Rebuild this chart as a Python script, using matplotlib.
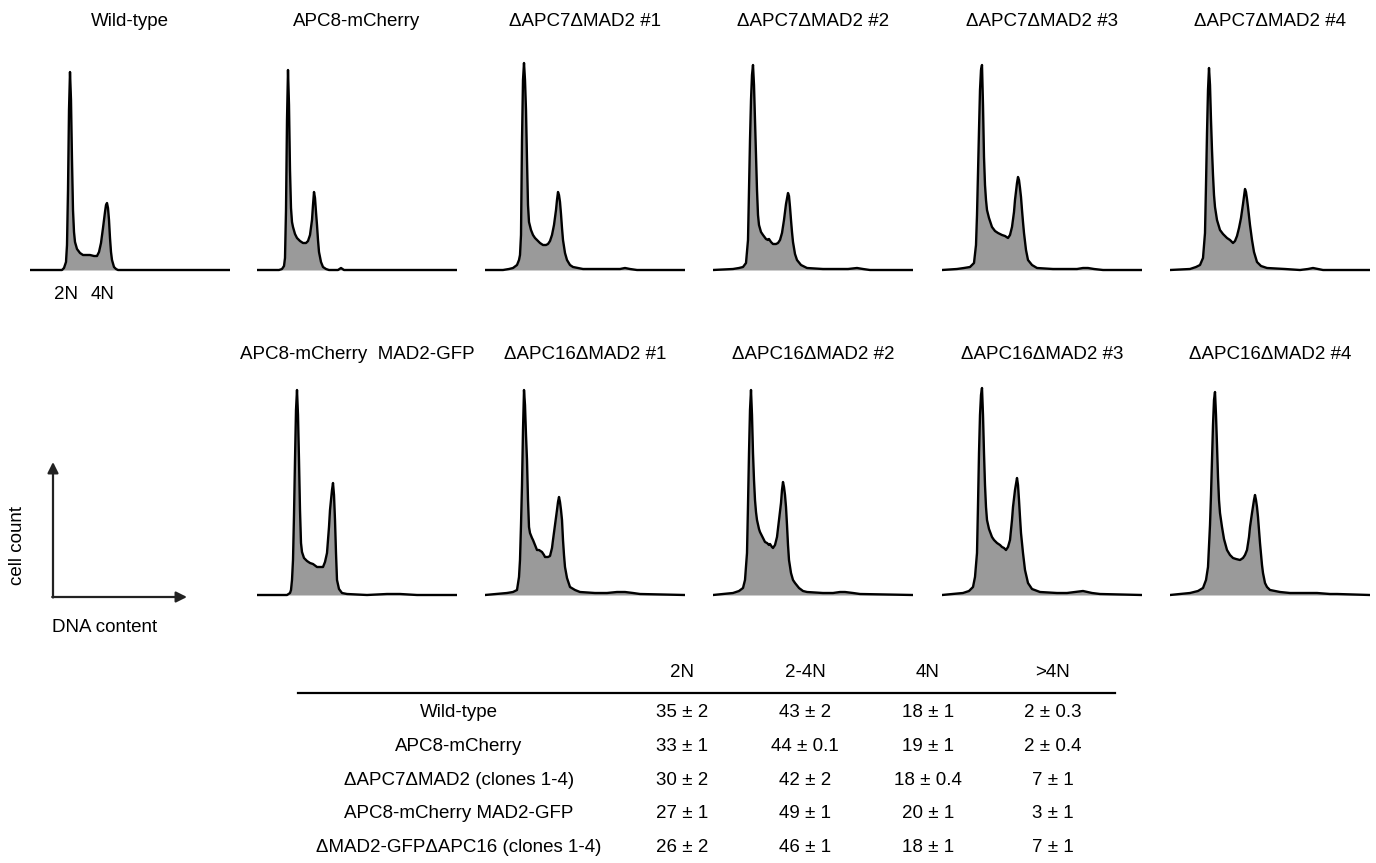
import matplotlib

matplotlib.use('Agg')
import matplotlib.pyplot as plt

plt.rcParams['font.family'] = ['Liberation Sans', 'DejaVu Sans']

W, H = 1376, 863

# histograms: (DNA content channel, cell count)
wt_hist = [(0, 0), (32, 0), (34, 2), (36, 8), (37, 25), (38, 80), (39, 160), (40, 198), (41, 170),
           (42, 110), (43, 60), (44, 38), (45, 28), (47, 21), (50, 17), (53, 15), (57, 15), (60, 15),
           (64, 14), (67, 14), (69, 18), (71, 27), (73, 42), (75, 58), (76, 65), (77, 67), (78, 62),
           (79, 50), (80, 32), (81, 18), (82, 10), (84, 3), (86, 1), (88, 0), (200, 0)]

apc8_hist = [(0, 0), (22, 0), (25, 1), (27, 4), (28, 12), (29, 60), (30, 150), (31, 200), (32, 165),
             (33, 100), (34, 62), (35, 48), (36, 43), (38, 36), (40, 32), (43, 29), (46, 27), (49, 27),
             (51, 29), (53, 35), (55, 50), (56, 65), (57, 78), (58, 72), (59, 58), (60, 45), (61, 30),
             (62, 18), (64, 8), (66, 3), (69, 1), (72, 0), (81, 0), (84, 2), (87, 0), (200, 0)]

a7m1_hist = [(0, 0), (18, 0), (24, 1), (28, 2), (32, 5), (34, 10), (35, 15), (36, 35), (37, 130),
             (38, 190), (39, 207), (40, 190), (41, 160), (42, 110), (43, 65), (44, 48), (46, 40),
             (48, 35), (50, 32), (53, 29), (55, 27), (58, 25), (61, 25), (63, 26), (65, 29), (67, 35),
             (69, 45), (71, 60), (72, 70), (73, 78), (74, 75), (75, 68), (76, 56), (77, 42), (78, 30),
             (80, 17), (82, 10), (85, 5), (88, 3), (93, 2), (98, 1), (130, 1), (135, 1), (140, 2),
             (145, 1), (152, 0), (200, 0)]

a7m2_hist = [(0, 0), (20, 1), (26, 2), (30, 3), (33, 7), (35, 30), (36, 80), (37, 130), (38, 170),
             (39, 195), (40, 205), (41, 185), (42, 150), (43, 115), (44, 80), (45, 55), (46, 45),
             (48, 38), (50, 35), (53, 31), (55, 30), (56, 31), (58, 28), (60, 26), (63, 26), (65, 27),
             (67, 30), (69, 37), (71, 50), (73, 66), (75, 77), (76, 74), (77, 63), (78, 50), (79, 38),
             (80, 28), (82, 16), (84, 10), (88, 5), (94, 2), (110, 1), (124, 1), (135, 1), (144, 2),
             (150, 1), (157, 0), (200, 0)]

a7m3_hist = [(0, 0), (15, 1), (22, 2), (28, 3), (32, 7), (34, 25), (35, 55), (36, 97), (37, 140),
             (38, 180), (39, 200), (40, 205), (41, 165), (42, 113), (43, 85), (44, 70), (45, 60),
             (47, 52), (50, 43), (53, 39), (56, 37), (60, 35), (63, 34), (66, 32), (68, 35), (70, 43),
             (72, 58), (73, 70), (75, 87), (76, 93), (77, 90), (78, 82), (79, 73), (80, 60), (81, 48),
             (82, 37), (84, 20), (86, 10), (90, 5), (95, 2), (111, 1), (135, 1), (141, 2), (146, 2),
             (152, 1), (161, 0), (200, 0)]

a7m4_hist = [(0, 0), (20, 1), (26, 3), (30, 5), (33, 12), (35, 37), (36, 85), (37, 137), (38, 180),
             (39, 202), (40, 185), (41, 150), (42, 120), (43, 95), (44, 75), (45, 63), (47, 50),
             (50, 40), (53, 36), (57, 32), (60, 30), (63, 27), (65, 29), (67, 34), (69, 42), (71, 52),
             (73, 66), (75, 81), (76, 78), (77, 71), (78, 63), (80, 45), (82, 30), (84, 18), (87, 8),
             (91, 4), (97, 2), (115, 1), (130, 0), (138, 1), (143, 2), (148, 1), (153, 0), (200, 0)]

apc8mad2_hist = [(0, 0), (30, 0), (33, 2), (34, 5), (35, 15), (36, 35), (37, 80), (38, 135), (39, 185),
                 (40, 205), (41, 180), (42, 135), (43, 85), (44, 52), (45, 43), (47, 37), (50, 34),
                 (53, 32), (56, 31), (60, 28), (63, 28), (66, 28), (68, 33), (70, 42), (72, 68), (73, 85),
                 (75, 105), (76, 112), (77, 100), (78, 75), (79, 42), (80, 15), (82, 6), (85, 2), (90, 1),
                 (110, 0), (130, 1), (143, 1), (160, 0), (200, 0)]

a16m1_hist = [(0, 0), (22, 2), (28, 3), (32, 5), (34, 18), (35, 35), (36, 70), (37, 110), (38, 165),
              (39, 205), (40, 190), (41, 160), (42, 135), (43, 95), (44, 68), (45, 62), (47, 57), (48, 55),
              (50, 50), (52, 45), (54, 45), (57, 43), (59, 40), (60, 38), (63, 38), (65, 39), (67, 47),
              (68, 55), (70, 70), (72, 85), (73, 93), (74, 98), (75, 93), (76, 85), (77, 75), (78, 55),
              (79, 40), (80, 28), (82, 17), (85, 8), (90, 5), (95, 3), (110, 2), (122, 2), (132, 3),
              (140, 3), (148, 2), (155, 1), (200, 0)]

a16m2_hist = [(0, 0), (20, 2), (26, 4), (30, 7), (32, 15), (34, 42), (35, 90), (36, 142), (37, 185),
              (38, 205), (39, 180), (40, 142), (41, 115), (42, 95), (43, 83), (44, 75), (46, 66), (47, 63),
              (50, 57), (52, 53), (54, 52), (56, 50), (57, 51), (59, 48), (60, 47), (62, 50), (64, 58),
              (66, 75), (68, 92), (69, 105), (70, 113), (71, 108), (72, 100), (73, 88), (74, 70), (75, 50),
              (76, 35), (78, 22), (80, 15), (82, 12), (86, 7), (90, 4), (94, 3), (110, 2), (120, 2),
              (127, 3), (132, 3), (140, 2), (147, 1), (200, 0)]

a16m3_hist = [(0, 0), (21, 2), (27, 4), (31, 8), (33, 18), (35, 42), (36, 90), (37, 142), (38, 180),
              (39, 200), (40, 207), (41, 180), (42, 142), (43, 110), (44, 88), (45, 75), (47, 66), (50, 58),
              (52, 55), (55, 52), (58, 50), (60, 48), (62, 47), (64, 45), (66, 48), (68, 55), (70, 75),
              (71, 88), (73, 105), (75, 117), (76, 110), (77, 95), (78, 78), (79, 62), (81, 42), (83, 25),
              (86, 12), (90, 6), (98, 3), (115, 2), (125, 2), (133, 3), (141, 4), (150, 2), (158, 1),
              (200, 0)]

a16m4_hist = [(0, 0), (20, 2), (28, 4), (33, 7), (36, 15), (38, 28), (40, 70), (41, 100), (42, 135),
              (43, 170), (44, 195), (45, 203), (46, 180), (47, 150), (48, 118), (49, 95), (50, 82),
              (52, 68), (54, 56), (57, 45), (60, 40), (63, 37), (66, 36), (70, 35), (73, 37), (75, 40),
              (77, 45), (79, 58), (80, 68), (82, 82), (84, 95), (85, 100), (86, 95), (87, 88), (88, 78),
              (90, 52), (92, 30), (93, 22), (95, 12), (97, 8), (100, 5), (110, 3), (120, 2), (135, 2),
              (147, 2), (160, 1), (167, 1), (200, 0)]

row1_titles = ["Wild-type", "APC8-mCherry", "ΔAPC7ΔMAD2 #1", "ΔAPC7ΔMAD2 #2",
               "ΔAPC7ΔMAD2 #3", "ΔAPC7ΔMAD2 #4"]
row2_titles = ["APC8-mCherry  MAD2-GFP", "ΔAPC16ΔMAD2 #1", "ΔAPC16ΔMAD2 #2",
               "ΔAPC16ΔMAD2 #3", "ΔAPC16ΔMAD2 #4"]

# summary table (% of cells)
row_labels = ["Wild-type", "APC8-mCherry", "ΔAPC7ΔMAD2 (clones 1-4)",
              "APC8-mCherry MAD2-GFP", "ΔMAD2-GFPΔAPC16 (clones 1-4)"]
col_labels = ["2N", "2-4N", "4N", ">4N"]
mean_2n = [35, 33, 30, 27, 26]
err_2n = [2, 1, 2, 1, 2]
mean_2_4n = [43, 44, 42, 49, 46]
err_2_4n = [2, 0.1, 2, 1, 1]
mean_4n = [18, 19, 18, 20, 18]
err_4n = [1, 1, 0.4, 1, 1]
mean_gt4n = [2, 2, 7, 3, 7]
err_gt4n = [0.3, 0.4, 1, 1, 1]

row1_data = [wt_hist, apc8_hist, a7m1_hist, a7m2_hist, a7m3_hist, a7m4_hist]
row2_data = [apc8mad2_hist, a16m1_hist, a16m2_hist, a16m3_hist, a16m4_hist]

FS = 13.5
fig = plt.figure(figsize=(W / 100, H / 100), dpi=100)

# overlay in pixel coordinates for arrows, labels and table
ov = fig.add_axes([0, 0, 1, 1])
ov.set_xlim(0, W)
ov.set_ylim(H, 0)
ov.axis('off')


def draw_panel(left, base, hist, title, title_y):
    pad = 3
    dna = [p[0] for p in hist]
    count = [p[1] for p in hist]
    ax = fig.add_axes([left / W, (H - base - pad) / H, 200 / W, 230 / H])
    ax.set_xlim(0, 200)
    ax.set_ylim(-pad, 230 - pad)
    ax.fill_between(dna, count, 0, color='#9a9a9a', lw=0)
    ax.plot(dna, count, color='black', lw=1.7, solid_joinstyle='round')
    ax.axis('off')
    ov.text(left + 100, title_y, title, ha='center', va='center', fontsize=FS)


lefts = [30, 257, 485, 713, 942, 1170]
for left, hist, title in zip(lefts, row1_data, row1_titles):
    draw_panel(left, 270, hist, title, 21)
for left, hist, title in zip(lefts[1:], row2_data, row2_titles):
    draw_panel(left, 595, hist, title, 354)

ov.text(66, 294, "2N", ha='center', va='center', fontsize=FS)
ov.text(103, 294, "4N", ha='center', va='center', fontsize=FS)

# axis schematic
arrow = dict(arrowstyle='-|>', lw=1.6, color='#222222', mutation_scale=16, shrinkA=0, shrinkB=0)
ov.annotate('', xy=(53, 462), xytext=(53, 597.5), arrowprops=arrow)
ov.annotate('', xy=(187, 597), xytext=(52.2, 597), arrowprops=arrow)
ov.text(18, 545, "cell count", rotation=90, ha='center', va='center', fontsize=FS)
ov.text(52, 627, "DNA content", ha='left', va='center', fontsize=FS)

# table
col_x = [682, 805, 928, 1053]
row_y = [712, 746, 780, 813, 847]
for x, lab in zip(col_x, col_labels):
    ov.text(x, 672, lab, ha='center', va='center', fontsize=FS)
ov.plot([298, 1115], [693, 693], color='black', lw=1.6)
columns = [(mean_2n, err_2n), (mean_2_4n, err_2_4n), (mean_4n, err_4n), (mean_gt4n, err_gt4n)]
for i, y in enumerate(row_y):
    ov.text(459, y, row_labels[i], ha='center', va='center', fontsize=FS)
    for x, (means, errs) in zip(col_x, columns):
        ov.text(x, y, f"{means[i]:g} ± {errs[i]:g}", ha='center', va='center', fontsize=FS)

fig.savefig('out.png', dpi=100)
